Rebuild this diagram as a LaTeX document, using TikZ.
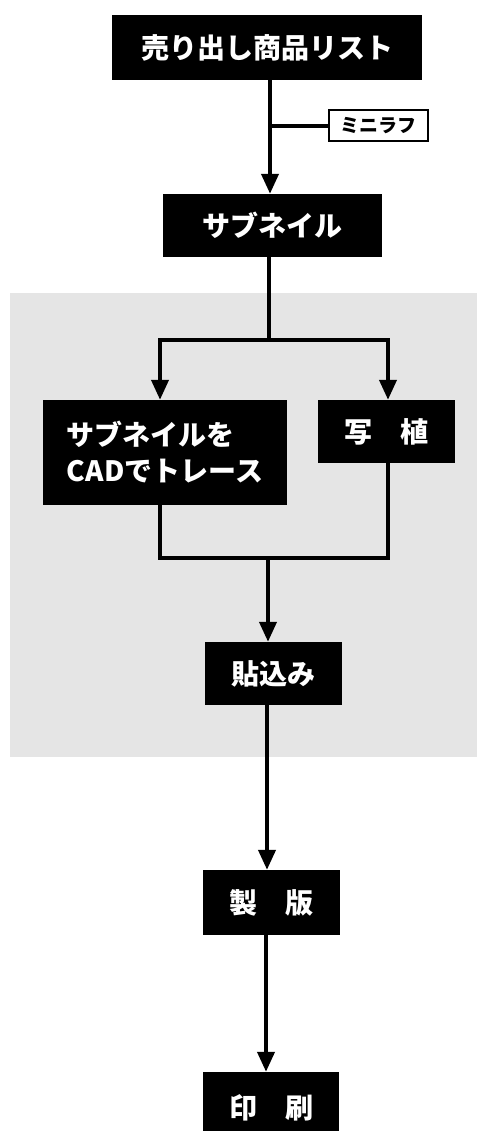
\documentclass[tikz,border=0pt]{standalone}
\usepackage{fontspec}
\newfontfamily\jp{Noto Sans CJK JP}
\usetikzlibrary{arrows.meta}
\definecolor{screen}{gray}{0.9}
\tikzset{
  blk/.style={fill=black, text=white, font=\jp\bfseries\fontsize{28}{36}\selectfont, inner sep=0pt, align=center},
  mini/.style={draw=black, line width=2pt, fill=white, text=black, font=\jp\bfseries\fontsize{19}{20}\selectfont, inner sep=0pt},
  conn/.style={line width=4pt, line join=miter},
  arr/.style={conn, -{Triangle[width=17pt,length=20pt]}},
}
\begin{document}
\begin{tikzpicture}[x=1pt,y=-1pt]
\useasboundingbox (0,0) rectangle (477,1131);
\fill[screen] (10,293) rectangle (477,757);
\clip (0,0) rectangle (477,1131);
% nodes
\node[blk, minimum width=310pt, minimum height=65pt] (list) at (267,47.5) {売り出し商品リスト};
\node[mini, minimum width=99pt, minimum height=31pt] (rough) at (378.5,126) {ミニラフ};
\node[blk, minimum width=219pt, minimum height=63pt] (thumb) at (272.5,225.5) {サブネイル};
\node[blk, align=left, minimum width=244pt, minimum height=105pt] (cad) at (165,452.5) {サブネイルを\\CADでトレース};
\node[blk, minimum width=137pt, minimum height=63pt] (phot) at (386.5,431.5) {写　植};
\node[blk, minimum width=137pt, minimum height=63pt] (paste) at (273.5,673.5) {貼込み};
\node[blk, minimum width=137pt, minimum height=65pt] (plate) at (271.5,902.5) {製　版};
\node[blk, minimum width=136pt, minimum height=72pt] (print) at (271,1108) {印　刷};
% helper coordinates
\coordinate (v1) at (270,0);
\coordinate (v2) at (269,0);
\coordinate (sL) at (160,340);
\coordinate (sR) at (388,340);
\coordinate (sC) at (269,340);
\coordinate (mL) at (160,558);
\coordinate (mR) at (388,558);
\coordinate (mC) at (268,558);
\coordinate (v3) at (267,0);
\coordinate (v4) at (266,0);
\coordinate (br) at (270,126);
% connectors
\draw[arr] (list.south -| v1) -- (thumb.north -| v1);
\draw[conn] (br) -- (rough.west);
\draw[conn] (thumb.south -| v2) -- (sC);
\draw[arr] (sC) -- (sL) -- (cad.north -| sL);
\draw[arr] (sC) -- (sR) -- (phot.north -| sR);
\draw[conn] (cad.south -| mL) -- (mL) -- (mR) -- (phot.south -| mR);
\draw[arr] (mC) -- (paste.north -| mC);
\draw[arr] (paste.south -| v3) -- (plate.north -| v3);
\draw[arr] (plate.south -| v4) -- (print.north -| v4);
\end{tikzpicture}
\end{document}
